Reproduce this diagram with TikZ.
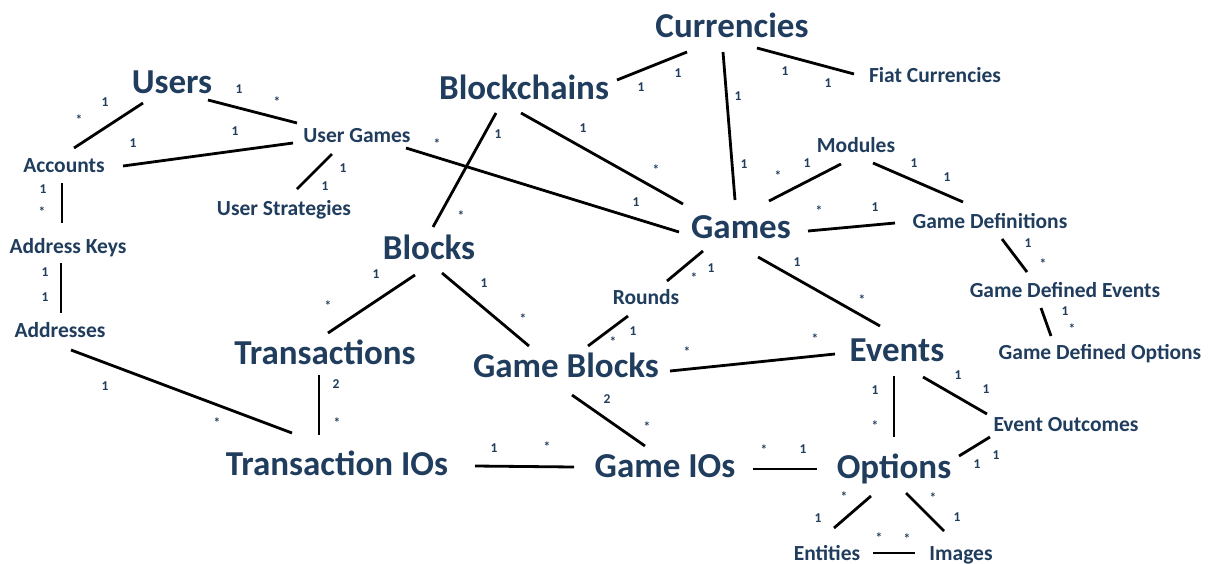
\documentclass[tikz,border=0pt]{standalone}
\usepackage{fontspec}
\setmainfont{Carlito}
\definecolor{navy}{HTML}{203D5E}
\tikzset{
  entbig/.style={font=\fontsize{35}{40}\selectfont\bfseries, text=navy, anchor=base, inner sep=0pt},
  entsmall/.style={font=\fontsize{21.5}{24}\selectfont\bfseries, text=navy, anchor=base, inner sep=0pt},
  mult/.style={font=\fontsize{13.5}{15}\selectfont\bfseries, text=navy, inner sep=0pt},
  conn/.style={line width=2.8pt, black}
}
\begin{document}
\begin{tikzpicture}[x=1pt,y=-1pt]
\useasboundingbox[fill=white] (0,0) rectangle (1208,563);
% entities
\node[entbig]   (currencies)   at (732,37)  {Currencies};
\node[entsmall] (fiat)         at (935,82)  {Fiat Currencies};
\node[entbig]   (blockchains)  at (524,99)  {Blockchains};
\node[entbig]   (users)        at (172,93)  {Users};
\node[entsmall] (usergames)    at (357,142) {User Games};
\node[entsmall] (accounts)     at (64,172)  {Accounts};
\node[entsmall] (userstrat)    at (284,215) {User Strategies};
\node[entsmall] (modules)      at (856,152) {Modules};
\node[entsmall] (gamedefs)     at (990,228) {Game Definitions};
\node[entbig]   (games)        at (741,238) {Games};
\node[entsmall] (addrkeys)     at (68,253)  {Address Keys};
\node[entbig]   (blocks)       at (429,259) {Blocks};
\node[entsmall] (rounds)       at (646,304) {Rounds};
\node[entsmall] (gde)          at (1065,297) {Game Defined Events};
\node[entsmall] (addresses)    at (60,337)  {Addresses};
\node[entbig]   (transactions) at (325,364) {Transactions};
\node[entbig]   (gameblocks)   at (566,377) {Game Blocks};
\node[entbig]   (events)       at (897,361) {Events};
\node[entsmall] (gdo)          at (1100,359) {Game Defined Options};
\node[entsmall] (outcomes)     at (1066,431) {Event Outcomes};
\node[entbig]   (txios)        at (337,475) {Transaction IOs};
\node[entbig]   (gameios)      at (665,477) {Game IOs};
\node[entbig]   (options)      at (894,478) {Options};
\node[entsmall] (entities)     at (827,560) {Entities};
\node[entsmall] (images)       at (961,560) {Images};
% connectors
\draw[conn] ([shift={(-29,10)}]users.base) -- ([shift={(10,-24)}]accounts.base);
\draw[conn] ([shift={(36,7)}]users.base) -- ([shift={(-60,-19)}]usergames.base);
\draw[conn] ([shift={(59,-6)}]accounts.base) -- ([shift={(-64,1)}]usergames.base);
\draw[conn] ([shift={(-25,12)}]usergames.base) -- ([shift={(13,-26)}]userstrat.base);
\draw[conn] ([shift={(-2,11)}]accounts.base) -- ([shift={(-6,-30)}]addrkeys.base);
\draw[conn] ([shift={(-7,10)}]addrkeys.base) -- ([shift={(1,-24)}]addresses.base);
\draw[conn] ([shift={(11,13)}]addresses.base) -- ([shift={(-45,-42)}]txios.base);
\draw[conn] ([shift={(-14,16)}]blocks.base) -- ([shift={(3,-31)}]transactions.base);
\draw[conn] ([shift={(-6,11)}]transactions.base) -- ([shift={(-18,-40)}]txios.base);
\draw[conn] ([shift={(-45,15)}]currencies.base) -- ([shift={(93,-19)}]blockchains.base);
\draw[conn] ([shift={(-9,15)}]currencies.base) -- ([shift={(-6,-38)}]games.base);
\draw[conn] ([shift={(25,11)}]currencies.base) -- ([shift={(-81,-8)}]fiat.base);
\draw[conn] ([shift={(-28,14)}]blockchains.base) -- ([shift={(4,-32)}]blocks.base);
\draw[conn] ([shift={(-3,14)}]blockchains.base) -- ([shift={(-58,-34)}]games.base);
\draw[conn] ([shift={(49,6)}]usergames.base) -- ([shift={(-62,-6)}]games.base);
\draw[conn] ([shift={(28,-37)}]games.base) -- ([shift={(-15,12)}]modules.base);
\draw[conn] ([shift={(17,11)}]modules.base) -- ([shift={(-27,-26)}]gamedefs.base);
\draw[conn] ([shift={(67,-7)}]games.base) -- ([shift={(-95,-5)}]gamedefs.base);
\draw[conn] ([shift={(12,11)}]gamedefs.base) -- ([shift={(-38,-25)}]gde.base);
\draw[conn] ([shift={(-24,11)}]gde.base) -- ([shift={(-49,-23)}]gdo.base);
\draw[conn] ([shift={(-38,13)}]games.base) -- ([shift={(21,-23)}]rounds.base);
\draw[conn] ([shift={(17,19)}]games.base) -- ([shift={(-17,-35)}]events.base);
\draw[conn] ([shift={(13,14)}]blocks.base) -- ([shift={(-37,-31)}]gameblocks.base);
\draw[conn] ([shift={(-18,12)}]rounds.base) -- ([shift={(22,-31)}]gameblocks.base);
\draw[conn] ([shift={(104,-6)}]gameblocks.base) -- ([shift={(-62,-7)}]events.base);
\draw[conn] ([shift={(-3,15)}]events.base) -- ([shift={(0,-41)}]options.base);
\draw[conn] ([shift={(26,16)}]events.base) -- ([shift={(-79,-17)}]outcomes.base);
\draw[conn] ([shift={(-76,6)}]outcomes.base) -- ([shift={(65,-22)}]options.base);
\draw[conn] ([shift={(-23,18)}]options.base) -- ([shift={(7,-32)}]entities.base);
\draw[conn] ([shift={(12,15)}]options.base) -- ([shift={(-17,-29)}]images.base);
\draw[conn] ([shift={(46,-7)}]entities.base) -- ([shift={(-46,-7)}]images.base);
\draw[conn] ([shift={(88,-8)}]gameios.base) -- ([shift={(-77,-9)}]options.base);
\draw[conn] ([shift={(138,-9)}]txios.base) -- ([shift={(-91,-10)}]gameios.base);
\draw[conn] ([shift={(6,18)}]gameblocks.base) -- ([shift={(-20,-31)}]gameios.base);
% multiplicities
\foreach [count=\i] \x/\y/\t in {
  105/102/1, 79/120/*, 239/89/1, 277/102/*, 235/131/1, 133/143/1, 343/168/1, 325/186/1, 43/189/1, 42/212/*,
  45/272/1, 45/297/1, 105/386/1, 217/423/*, 376/274/1, 328/306/*, 336/384/2, 337/423/*,
  678/73/1, 641/87/1, 738/96/1, 744/164/1, 785/71/1, 828/83/1,
  498/134/1, 461/216/*, 583/128/1, 656/170/*, 437/144/*, 636/202/1,
  778/176/*, 807/163/1, 914/163/1, 947/177/1, 819/211/*, 875/207/1,
  1028/243/1, 1043/264/*, 1065/311/1, 1072/329/*,
  711/268/1, 694/278/*, 797/262/1, 862/300/*, 484/283/1, 523/319/*, 633/331/1, 613/342/*, 687/352/*, 815/339/*,
  875/390/1, 875/426/*, 958/375/1, 986/389/1, 996/455/1, 977/464/1,
  844/497/*, 818/518/1, 933/498/*, 957/517/1, 879/538/*, 907/539/*,
  764/450/*, 803/449/1, 494/448/1, 547/447/*, 607/399/2, 647/427/*}
  \node[mult] (m\i) at (\x,\y) {\t};
\end{tikzpicture}
\end{document}
